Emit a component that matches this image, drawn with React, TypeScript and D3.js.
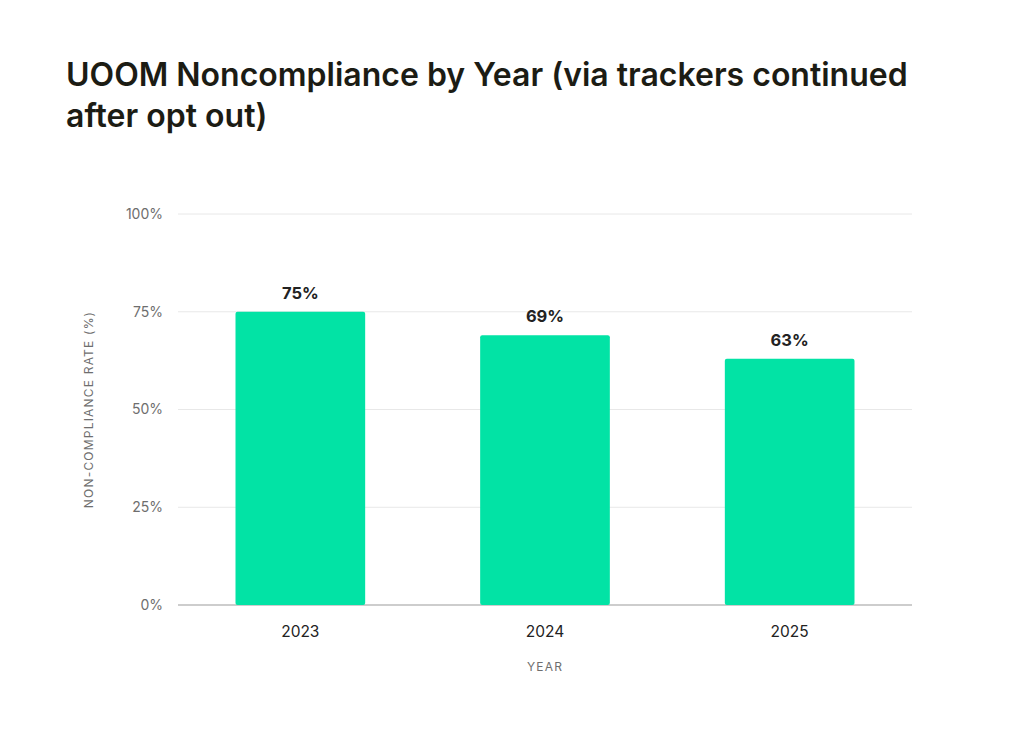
import React from "react";
import * as d3 from "d3";

const years = ["2023", "2024", "2025"];
const rates = [75, 69, 63];
const yTicks = [0, 25, 50, 75, 100];

const W = 1024;
const H = 755;
const margin = { top: 214, right: 112, bottom: 150, left: 178 };
const FONT = "Inter, 'DejaVu Sans', sans-serif";

const App = () => {
  const width = W - margin.left - margin.right;
  const height = H - margin.top - margin.bottom;

  const x = d3.scaleBand().domain(years).range([0, width]).paddingInner(0.47).paddingOuter(0.235);
  const y = d3.scaleLinear().domain([0, 100]).range([height, 0]);

  return (
    <svg width={W} height={H} style={{ position: "absolute", left: 0, top: 0, background: "#fff" }}>
      <text x={66} y={86} fontFamily={FONT} fontWeight={600} fontSize={32} fill="#1c1c14">
        UOOM Noncompliance by Year (via trackers continued
      </text>
      <text x={66} y={127} fontFamily={FONT} fontWeight={600} fontSize={32} fill="#1c1c14">
        after opt out)
      </text>
      <g transform={`translate(${margin.left},${margin.top})`}>
        {yTicks.map((t) => (
          <g key={t} transform={`translate(0,${y(t)})`}>
            <line x1={0} x2={width} stroke={t === 0 ? "#bdbdbd" : "#e8e8e8"} strokeWidth={t === 0 ? 1.5 : 1} />
            <text x={-15} dy="0.35em" textAnchor="end" fontFamily={FONT} fontSize={14} fill="#6e6e6e">
              {t}%
            </text>
          </g>
        ))}
        {years.map((yr, i) => (
          <g key={yr}>
            <rect
              x={x(yr)}
              y={y(rates[i])}
              width={x.bandwidth()}
              height={y(0) - y(rates[i])}
              rx={2}
              fill="#02e3a5"
            />
            <text
              x={(x(yr) as number) + x.bandwidth() / 2}
              y={y(rates[i]) - 13}
              textAnchor="middle"
              fontFamily={FONT}
              fontWeight={700}
              fontSize={16.5}
              fill="#222"
            >
              {rates[i]}%
            </text>
            <text
              x={(x(yr) as number) + x.bandwidth() / 2}
              y={height + 32}
              textAnchor="middle"
              fontFamily={FONT}
              fontSize={15.5}
              fill="#222"
            >
              {yr}
            </text>
          </g>
        ))}
        <text
          transform={`translate(${-89},${height / 2}) rotate(-90)`}
          textAnchor="middle"
          dy="0.35em"
          fontFamily={FONT}
          fontSize={12}
          letterSpacing={1.2}
          fill="#6e6e6e"
        >
          NON-COMPLIANCE RATE (%)
        </text>
        <text
          x={width / 2}
          y={height + 66}
          textAnchor="middle"
          fontFamily={FONT}
          fontSize={12}
          letterSpacing={1.2}
          fill="#6e6e6e"
        >
          YEAR
        </text>
      </g>
    </svg>
  );
};

export default App;
